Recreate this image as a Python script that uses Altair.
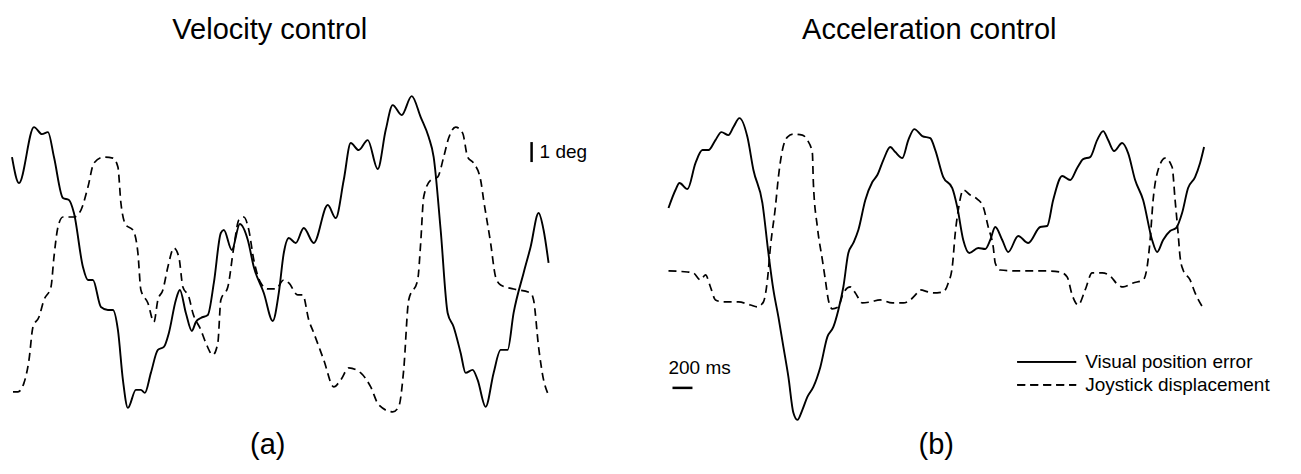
import altair as alt
import pandas as pd

# ---------------- data (time in ms, value in deg) ----------------
vel_pos_t = [0, 70, 220, 300, 360, 420, 510, 570, 620, 710, 760, 810, 890, 960, 1010, 1060, 1110, 1160,
             1240, 1290, 1330, 1390, 1460, 1520, 1570, 1640, 1680, 1740, 1800, 1840, 1890, 1960, 2020,
             2090, 2120, 2200, 2280, 2360, 2420, 2520, 2610, 2670, 2720, 2770, 2840, 2920, 3020, 3160,
             3240, 3320, 3390, 3470, 3560, 3660, 3740, 3810, 3900, 4000, 4090, 4170, 4220, 4290, 4360,
             4420, 4490, 4540, 4610, 4660, 4740, 4820, 4890, 4960, 5020, 5120, 5190, 5270, 5320, 5370]
vel_pos_v = [12.75, 11.45, 14.25, 13.9, 14.0, 12.75, 10.7, 10.6, 9.95, 7.25, 6.6, 6.6, 5.25, 5.1, 5.1, 4.1,
             1.6, 0.2, 1.1, 1.1, 0.95, 1.95, 3.1, 3.25, 3.95, 5.6, 6.1, 4.95, 4.05, 4.5, 4.7, 4.85, 6.45,
             8.95, 9.1, 8.1, 9.4, 8.6, 7.25, 5.95, 4.55, 5.95, 7.95, 8.7, 8.45, 9.2, 8.45, 10.35,
             9.7, 11.6, 13.45, 13.1, 13.6, 12.15, 14.1, 15.35, 14.85, 15.8, 14.75, 13.75, 12.75, 9.1, 4.95,
             4.25, 2.95, 1.95, 2.1, 1.6, 0.25, 1.95, 3.1, 3.1, 4.95, 6.95, 8.25, 9.95, 9.1, 7.45]

vel_joy_t = [10, 60, 120, 170, 210, 270, 320, 390, 420, 460, 510, 620, 690, 760, 820, 920, 1010, 1060,
             1090, 1140, 1210, 1260, 1290, 1360, 1420, 1460, 1510, 1560, 1620, 1670, 1710, 1770, 1810,
             1890, 1940, 2010, 2060, 2090, 2160, 2220, 2270, 2320, 2370, 2420, 2490, 2560, 2640, 2720,
             2770, 2860, 2910, 2970, 3020, 3120, 3220, 3290, 3370, 3490, 3590, 3670, 3810, 3870, 3920,
             3970, 4060, 4090, 4120, 4190, 4260, 4320, 4370, 4440, 4510, 4560, 4620, 4690, 4720, 4790,
             4840, 4890, 5020, 5190, 5220, 5270, 5320, 5360]
vel_joy_v = [1.0, 1.0, 1.45, 2.6, 4.25, 4.75, 5.6, 6.25, 7.75, 9.25, 9.75, 9.75, 10.1, 11.25, 12.45, 12.75,
             12.7, 12.25, 10.45, 9.35, 9.1, 7.95, 6.1, 5.45, 4.5, 5.6, 6.1, 7.25, 8.2, 7.75, 6.25, 5.75,
             4.95, 4.1, 3.45, 2.85, 3.45, 5.6, 6.25, 8.25, 9.6, 9.75, 9.1, 7.6, 6.45, 6.15, 6.15, 6.6,
             6.45, 5.85, 5.85, 4.6, 3.95, 2.6, 1.25, 1.6, 2.2, 1.95, 1.25, 0.35, 0.0, 0.25, 2.1,
             5.6, 6.6, 8.45, 10.75, 11.6, 11.75, 12.75, 13.7, 14.25, 13.95, 12.75, 12.45, 11.6, 10.6, 8.45,
             6.75, 6.35, 6.15, 5.95, 5.6, 3.25, 1.6, 0.95]

acc_pos_t = [0, 70, 110, 190, 270, 340, 400, 470, 530, 600, 650, 710, 790, 850, 940, 1000, 1050, 1100,
             1150, 1200, 1250, 1290, 1340, 1390, 1450, 1520, 1590, 1650, 1700, 1750, 1800, 1850, 1900,
             1970, 2040, 2090, 2150, 2220, 2270, 2340, 2400, 2460, 2540, 2620, 2670, 2750, 2840, 2890,
             2950, 3010, 3100, 3170, 3220, 3270, 3340, 3400, 3500, 3600, 3720, 3790, 3850, 3940, 4020,
             4090, 4150, 4220, 4290, 4350, 4400, 4460, 4540, 4600, 4670, 4750, 4840, 4890, 4950, 5020,
             5080, 5140, 5200, 5270, 5320, 5360]
acc_pos_v = [10.6, 11.5, 11.85, 11.55, 12.85, 13.5, 13.5, 14.0, 14.4, 14.25, 14.65, 15.1, 14.15, 12.5, 10.85,
             8.35, 6.5, 5.15, 3.65, 2.15, 0.35, 0.0, 0.5, 1.15, 1.65, 2.65, 4.15, 4.65, 5.5, 6.65, 8.35,
             8.85, 9.5, 11.0, 11.9, 12.25, 13.0, 13.65, 13.4, 13.1, 14.0, 14.55, 14.2, 14.1, 13.5, 12.15,
             11.6, 10.65, 9.0, 8.35, 8.6, 8.55, 9.0, 9.65, 9.0, 8.4, 9.2, 8.85, 9.65, 9.7, 11.0, 12.2,
             12.0, 12.6, 13.05, 13.15, 14.0, 14.45, 14.0, 13.45, 13.85, 13.35, 12.0, 11.0, 9.0, 8.4, 9.0,
             9.45, 9.6, 10.35, 11.6, 12.15, 12.85, 13.65]

acc_joy_t = [0, 190, 250, 320, 370, 420, 470, 550, 700, 820, 890, 950, 990, 1020, 1070, 1100, 1140, 1190,
             1250, 1340, 1390, 1440, 1450, 1490, 1540, 1570, 1600, 1640, 1700, 1750, 1820, 1870, 1940,
             2020, 2120, 2240, 2350, 2420, 2490, 2520, 2600, 2650, 2750, 2800, 2840, 2870, 2900, 2950,
             3020, 3090, 3150, 3200, 3250, 3270, 3320, 3520, 3790, 3920, 3990, 4040, 4100, 4170, 4240,
             4340, 4420, 4500, 4550, 4650, 4750, 4790, 4820, 4850, 4900, 4970, 5040, 5070, 5100, 5120,
             5150, 5220, 5270, 5350]
acc_joy_v = [7.45, 7.4, 7.35, 7.0, 7.25, 6.65, 6.0, 5.9, 5.9, 5.75, 5.65, 5.9, 7.0, 8.65, 10.65, 12.15, 13.5,
             14.15, 14.3, 14.25, 14.0, 13.35, 11.85, 9.65, 8.0, 7.0, 6.0, 5.55, 5.65, 6.35, 6.65, 6.35,
             5.85, 5.9, 6.0, 5.85, 5.85, 6.0, 6.35, 6.5, 6.4, 6.35, 6.4, 6.85, 7.65, 9.35, 10.5, 11.5,
             11.25, 11.05, 10.65, 9.65, 8.65, 7.85, 7.5, 7.45, 7.45, 7.4, 7.15, 6.25, 5.75, 6.5, 7.35,
             7.35, 7.2, 6.75, 6.65, 6.85, 7.0, 7.65, 9.0, 11.0, 12.5, 13.1, 12.65, 11.0, 9.35, 8.15,
             7.5, 7.0, 6.35, 5.6]

panel_titles = ["Velocity control", "Acceleration control"]
panel_tags = ["(a)", "(b)"]
series_names = ["Visual position error", "Joystick displacement"]

# scale bars: 1 deg (left panel), 200 ms (right panel)
deg_bar = {"t": [5200], "v0": [12.5], "v1": [13.5], "label": ["1 deg"]}
ms_bar = {"t0": [40], "t1": [240], "v": [1.6], "label": ["200 ms"]}

FONT = "Liberation Sans"
W_L, W_R, H = 640, 645, 458
TITLE_SIZE = 29
LABEL_SIZE = 19
SOLID_W = 1.9
DASH_W = 1.7
DASH = [8, 5]


def line_df(t, v, name):
    return pd.DataFrame({"t": t, "v": v, "series": name})


def panel(pos_t, pos_v, joy_t, joy_v, xdom, ydom, width, title, tag, title_x, tag_x):
    xs = alt.Scale(domain=xdom, nice=False, zero=False)
    ys = alt.Scale(domain=ydom, nice=False, zero=False)
    solid = alt.Chart(line_df(pos_t, pos_v, series_names[0])).mark_line(
        color="black", strokeWidth=SOLID_W, interpolate="monotone"
    ).encode(x=alt.X("t:Q", scale=xs, axis=None), y=alt.Y("v:Q", scale=ys, axis=None))
    dashed = alt.Chart(line_df(joy_t, joy_v, series_names[1])).mark_line(
        color="black", strokeWidth=DASH_W, strokeDash=DASH, interpolate="monotone"
    ).encode(x=alt.X("t:Q", scale=xs, axis=None), y=alt.Y("v:Q", scale=ys, axis=None))
    ttl = alt.Chart(pd.DataFrame({"s": [title]})).mark_text(
        font=FONT, fontSize=TITLE_SIZE, color="black", baseline="middle", align="center"
    ).encode(x=alt.value(title_x), y=alt.value(22), text="s:N")
    tg = alt.Chart(pd.DataFrame({"s": [tag]})).mark_text(
        font=FONT, fontSize=TITLE_SIZE, color="black", baseline="middle", align="center"
    ).encode(x=alt.value(tag_x), y=alt.value(437), text="s:N")
    return alt.layer(solid, dashed, ttl, tg).properties(width=width, height=H), xs, ys


left, xsL, ysL = panel(vel_pos_t, vel_pos_v, vel_joy_t, vel_joy_v, [-30, 6370], [-2.7, 20.2], W_L,
                       panel_titles[0], panel_tags[0], 261, 259)
right, xsR, ysR = panel(acc_pos_t, acc_pos_v, acc_joy_t, acc_joy_v, [-200, 6250], [-2.3, 20.6], W_R,
                        panel_titles[1], panel_tags[1], 281, 288)

degdf = pd.DataFrame(deg_bar)
deg_rule = alt.Chart(degdf).mark_rule(color="black", strokeWidth=2.5).encode(
    x=alt.X("t:Q", scale=xsL, axis=None), y=alt.Y("v0:Q", scale=ysL, axis=None), y2="v1:Q")
deg_txt = alt.Chart(degdf).mark_text(font=FONT, fontSize=LABEL_SIZE, align="left", baseline="middle", dx=8,
                                     dy=-10, color="black").encode(
    x=alt.X("t:Q", scale=xsL, axis=None), y=alt.Y("v0:Q", scale=ysL, axis=None), text="label:N")
left = alt.layer(left, deg_rule, deg_txt)

msdf = pd.DataFrame(ms_bar)
ms_rule = alt.Chart(msdf).mark_rule(color="black", strokeWidth=2.5).encode(
    x=alt.X("t0:Q", scale=xsR, axis=None), x2="t1:Q", y=alt.Y("v:Q", scale=ysR, axis=None))
ms_txt = alt.Chart(msdf).mark_text(font=FONT, fontSize=LABEL_SIZE, align="left", baseline="middle", dx=-4,
                                   dy=-20, color="black").encode(
    x=alt.X("t0:Q", scale=xsR, axis=None), y=alt.Y("v:Q", scale=ysR, axis=None), text="label:N")

leg_df = pd.DataFrame({"s": series_names})
leg_solid = alt.Chart(leg_df).mark_rule(color="black", strokeWidth=SOLID_W).encode(
    x=alt.value(369), x2=alt.value(428), y=alt.value(354))
leg_dash = alt.Chart(leg_df).mark_rule(color="black", strokeWidth=DASH_W, strokeDash=DASH).encode(
    x=alt.value(369), x2=alt.value(428), y=alt.value(377))
leg_t1 = alt.Chart(pd.DataFrame({"s": [series_names[0]]})).mark_text(
    font=FONT, fontSize=LABEL_SIZE, align="left", baseline="middle", color="black").encode(
    x=alt.value(437), y=alt.value(354), text="s:N")
leg_t2 = alt.Chart(pd.DataFrame({"s": [series_names[1]]})).mark_text(
    font=FONT, fontSize=LABEL_SIZE, align="left", baseline="middle", color="black").encode(
    x=alt.value(437), y=alt.value(377), text="s:N")
right = alt.layer(right, ms_rule, ms_txt, leg_solid, leg_dash, leg_t1, leg_t2)

chart = alt.hconcat(left, right, spacing=0).properties(padding=0).configure_view(stroke=None)

chart.save("out.html", embed_options={"renderer": "svg", "actions": False})
